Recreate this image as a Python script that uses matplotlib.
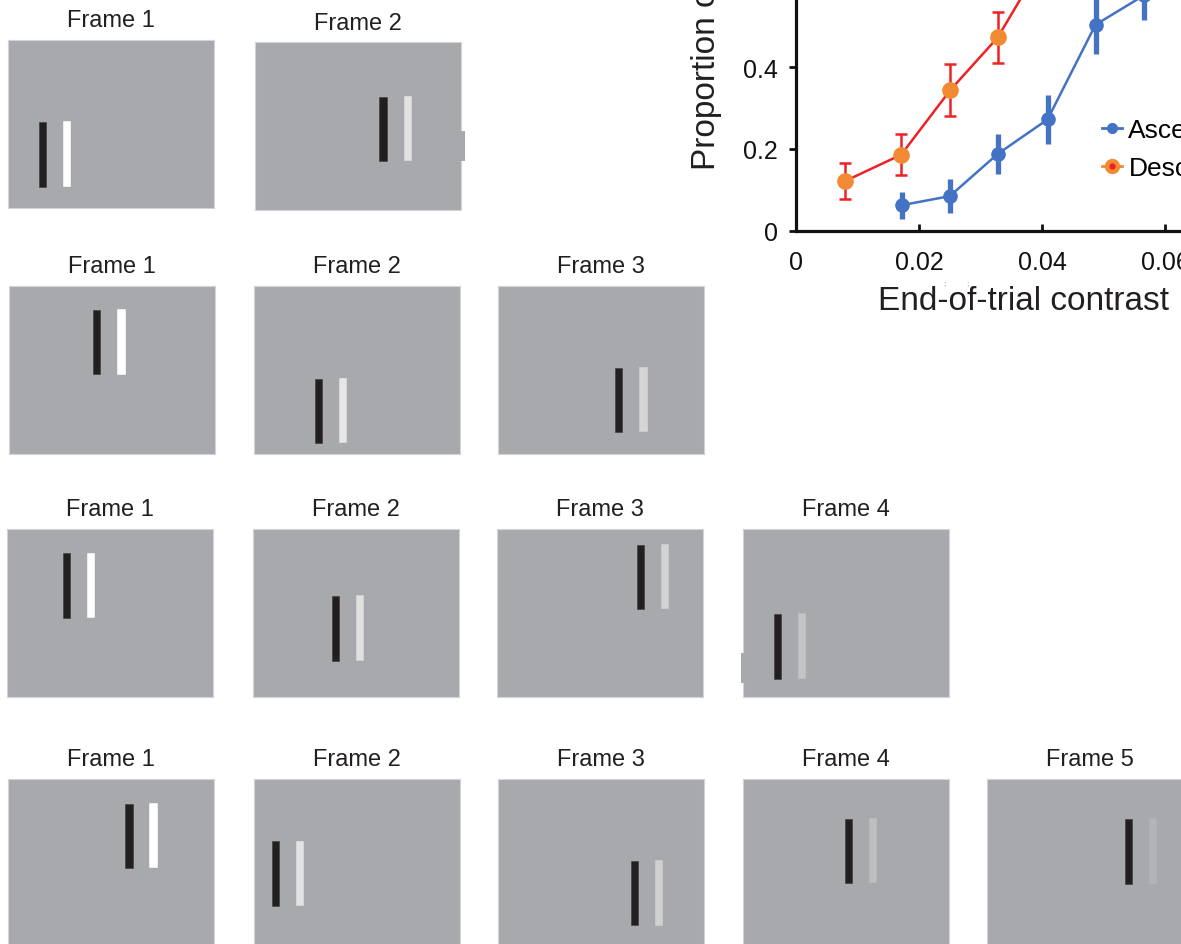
import matplotlib
matplotlib.use("Agg")
import matplotlib.pyplot as plt
from matplotlib.lines import Line2D
from matplotlib.legend_handler import HandlerTuple
import numpy as np

plt.rcParams['font.family'] = ['Liberation Sans', 'DejaVu Sans']

# ---------------- data: psychometric chart ----------------
asc_x = [0.0172, 0.0250, 0.0328, 0.0409, 0.0487, 0.0566]
asc_y = [0.063, 0.085, 0.188, 0.272, 0.503, 0.575]
asc_err = [0.033, 0.042, 0.049, 0.060, 0.072, 0.060]

desc_x = [0.0080, 0.0171, 0.0251, 0.0328, 0.0410]
desc_y = [0.122, 0.186, 0.344, 0.472, 0.680]
desc_err = [0.045, 0.050, 0.063, 0.062, 0.065]

xticks = [0, 0.02, 0.04, 0.06, 0.08]
xticklabels = ["0", "0.02", "0.04", "0.06", "0.08"]
yticks = [0, 0.2, 0.4, 0.6, 0.8, 1.0]
yticklabels = ["0", "0.2", "0.4", "0.6", "0.8", "1"]

# ---------------- data: stimulus frames ----------------
# per row: black-bar left (fraction of panel width), bar top (fraction from panel top),
# grey level of the companion bar
row_titles = [["Frame 1", "Frame 2"],
              ["Frame 1", "Frame 2", "Frame 3"],
              ["Frame 1", "Frame 2", "Frame 3", "Frame 4"],
              ["Frame 1", "Frame 2", "Frame 3", "Frame 4", "Frame 5"]]
row1_bar_x = [0.150, 0.604]
row1_bar_top = [0.490, 0.325]
row1_light = ["#FFFFFF", "#E2E2E2"]
row2_bar_x = [0.408, 0.296, 0.568]
row2_bar_top = [0.143, 0.553, 0.487]
row2_light = ["#FFFFFF", "#E6E6E6", "#D6D6D6"]
row3_bar_x = [0.271, 0.383, 0.679, 0.149]
row3_bar_top = [0.145, 0.400, 0.095, 0.507]
row3_light = ["#FFFFFF", "#E0E0E0", "#D3D3D3", "#C4C4C6"]
row4_bar_x = [0.569, 0.087, 0.644, 0.494, 0.668]
row4_bar_top = [0.147, 0.372, 0.489, 0.236, 0.240]
row4_light = ["#FFFFFF", "#E3E3E3", "#D0D0D0", "#BEBEC0", "#B3B4B7"]

W, H = 1181, 945
fig = plt.figure(figsize=(W / 100, H / 100), dpi=100)

def px_axes(left, top, width, height):
    return fig.add_axes([left / W, 1 - (top + height) / H, width / W, height / H])

# panel layout (pixels)
panel_w, panel_h = 206, 168
row_lefts = [[8, 255], [9, 254, 498], [7, 253, 497, 743], [8, 254, 498, 743, 987]]
row_tops = [[41, 43], [287, 287, 287], [530, 530, 530, 530], [780, 780, 780, 780, 780]]
rows_x = [row1_bar_x, row2_bar_x, row3_bar_x, row4_bar_x]
rows_top = [row1_bar_top, row2_bar_top, row3_bar_top, row4_bar_top]
rows_light = [row1_light, row2_light, row3_light, row4_light]

bg = "#A8A9AD"
bar_w, bar_h, bar_gap = 0.036, 0.383, 0.117
for r in range(4):
    for i, title in enumerate(row_titles[r]):
        ax = px_axes(row_lefts[r][i], row_tops[r][i], panel_w, panel_h)
        ax.set_facecolor(bg)
        ax.set_xlim(0, 1)
        ax.set_ylim(1, 0)
        ax.set_xticks([])
        ax.set_yticks([])
        for s in ax.spines.values():
            s.set_color("#D4D4D6")
            s.set_linewidth(0.8)
        bx = rows_x[r][i]
        bt = rows_top[r][i]
        ax.bar([bx], [bar_h], width=bar_w, bottom=[bt], align='edge',
               color="#231F20", edgecolor="#3a3a3a", linewidth=0.4)
        ax.bar([bx + bar_gap], [bar_h], width=bar_w, bottom=[bt - 0.005], align='edge',
               color=rows_light[r][i], edgecolor=rows_light[r][i], linewidth=0.4)
        ax.text(0.5, 1 + 19.5 / panel_h, title, transform=ax.transAxes,
                ha='center', va='center', fontsize=17, color="#231F20")
        if r == 0 and i == 1:
            ax.add_patch(plt.Rectangle((0.99, 0.293), 0.03, 0.178, facecolor=bg,
                                       edgecolor='none', transform=ax.transAxes,
                                       clip_on=False, zorder=5))
        if r == 2 and i == 3:
            ax.add_patch(plt.Rectangle((-0.012, 0.083), 0.02, 0.178, facecolor=bg,
                                       edgecolor='none', transform=ax.transAxes,
                                       clip_on=False, zorder=5))

# ---------------- chart ----------------
x_px_per_unit = 6150.0
y_px_per_unit = 410.0
xmax, ymax = 0.08, 1.0
cax = px_axes(796, 232 - ymax * y_px_per_unit, xmax * x_px_per_unit, ymax * y_px_per_unit)
cax.set_xlim(0, xmax)
cax.set_ylim(0, ymax)
cax.patch.set_alpha(0)
for s in ["top", "right"]:
    cax.spines[s].set_visible(False)
for s in ["left", "bottom"]:
    cax.spines[s].set_linewidth(2.3)
    cax.spines[s].set_color("#111111")

red = "#EE2124"
orange = "#F28A33"
blue = "#4472C4"

cax.errorbar(desc_x, desc_y, yerr=desc_err, fmt='none', ecolor=red, elinewidth=1.8,
             capsize=4, capthick=1.8, zorder=2)
cax.plot(desc_x, desc_y, '-', color=red, lw=1.8, zorder=3)
cax.plot(desc_x, desc_y, 'o', color=orange, ms=11, mec=orange, zorder=4)

cax.errorbar(asc_x, asc_y, yerr=asc_err, fmt='none', ecolor=blue, elinewidth=3.8,
             capsize=0, zorder=2)
cax.plot(asc_x, asc_y, '-o', color=blue, lw=1.8, ms=9.5, zorder=3)

cax.set_xticks(xticks)
cax.set_xticklabels(xticklabels)
cax.set_yticks(yticks)
cax.set_yticklabels(yticklabels)
cax.tick_params(axis='x', direction='in', length=5, width=2, labelsize=18, pad=14,
                colors="#111111")
cax.tick_params(axis='y', direction='out', length=5, width=2, labelsize=18, pad=8,
                colors="#111111")

cax.set_xlabel("End-of-trial contrast", fontsize=24, color="#231F20")
cax.xaxis.set_label_coords((1024 - 796) / (xmax * x_px_per_unit),
                           -(302 - 232) / (ymax * y_px_per_unit))
cax.xaxis.label.set_va('center')

fig.text(707 / W, 1 - 170 / H, "Proportion of trials seen", rotation=90,
         ha='center', va='bottom', fontsize=24, color="#231F20")

h_asc = Line2D([], [], color=blue, lw=2, marker='o', ms=7)
h_desc = (Line2D([], [], color=orange, lw=2, marker='o', ms=10),
          Line2D([], [], color=red, lw=0, marker='o', ms=3.5))
fig.legend([h_asc, h_desc], ["Ascending", "Descending"],
           handler_map={tuple: HandlerTuple(ndivide=1)},
           loc='upper left', bbox_to_anchor=(1102 / W, 1 - 119 / H),
           frameon=False, fontsize=19, handlelength=0.75, handletextpad=0.25,
           labelspacing=0.54, borderpad=0, borderaxespad=0)

fig.text(944 / W, 1 - 284 / H, ";", fontsize=6, color="#888888", ha='center', va='center')
fig.text(967 / W, 1 - 284 / H, ";", fontsize=6, color="#888888", ha='center', va='center')

fig.savefig("out.png", dpi=100)
